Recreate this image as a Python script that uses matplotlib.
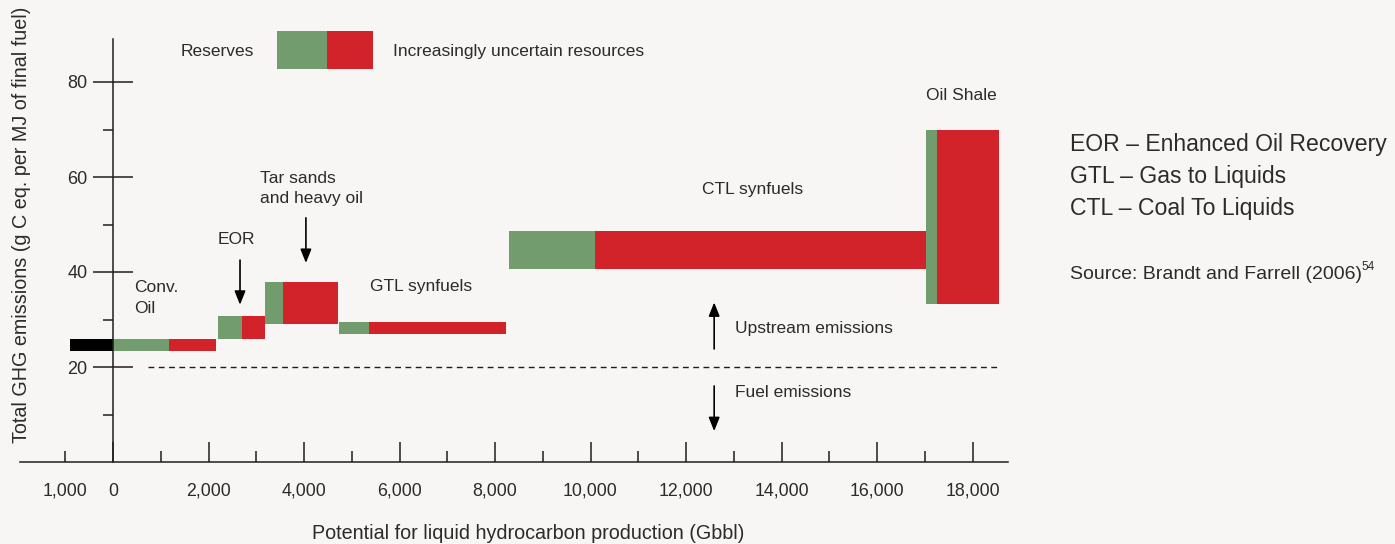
import matplotlib
matplotlib.use("Agg")
import matplotlib.pyplot as plt
from matplotlib.patches import Rectangle
from matplotlib.ticker import FixedLocator, FuncFormatter
import numpy as np

# ---------------- data ----------------
categories = ["Conv.\nOil", "EOR", "Tar sands\nand heavy oil", "GTL synfuels", "CTL synfuels", "Oil Shale"]
start = np.array([0, 2200, 3180, 4730, 8290, 17030])          # Gbbl
reserves_end = np.array([1170, 2700, 3560, 5360, 10090, 17260])
resources_end = np.array([2160, 3180, 4710, 8230, 17030, 18550])
low = np.array([23.4, 25.9, 29.1, 26.9, 40.6, 33.3])          # g C eq / MJ
high = np.array([25.9, 30.7, 37.9, 29.5, 48.6, 69.9])

produced_start = -900
produced_end = 0
produced_low = 23.4
produced_high = 25.9

fuel_emissions = 20

x_tick_values = [-1000, 0, 2000, 4000, 6000, 8000, 10000, 12000, 14000, 16000, 18000]
x_tick_labels = ["1,000", "0", "2,000", "4,000", "6,000", "8,000", "10,000",
                 "12,000", "14,000", "16,000", "18,000"]
y_tick_values = [20, 40, 60, 80]
y_tick_labels = ["20", "40", "60", "80"]

# ---------------- style ----------------
W, H = 1395, 544
BG = "#f7f6f4"
GREEN = "#739c6e"
RED = "#d2232b"
TXT = "#2b2b2b"
LINE = "#1e1e1e"
FONT = "Liberation Sans"
plt.rcParams["font.family"] = [FONT, "DejaVu Sans"]

fig = plt.figure(figsize=(W / 100, H / 100), dpi=100)
fig.patch.set_facecolor(BG)

def fx(px):
    return px / W

def fy(py):
    return 1 - py / H

PXK = 0.04775     # px per Gbbl
PXY = 4.75        # px per unit y
X0 = 113          # pixel of x=0
Y0 = 462          # pixel of y=0
xlim = (-1950, 18750)
ylim = (0, 92)
left_px = X0 + xlim[0] * PXK
width_px = (xlim[1] - xlim[0]) * PXK
height_px = (ylim[1] - ylim[0]) * PXY
ax = fig.add_axes([left_px / W, (H - Y0) / H, width_px / W, height_px / H])
ax.set_facecolor(BG)
ax.set_xlim(*xlim)
ax.set_ylim(*ylim)

for s in ["top", "right"]:
    ax.spines[s].set_visible(False)
ax.spines["bottom"].set_bounds(xlim[0], xlim[1])
ax.spines["left"].set_position(("data", 0))
ax.spines["left"].set_bounds(0, 89)
for s in ["bottom", "left"]:
    ax.spines[s].set_linewidth(1.1)
    ax.spines[s].set_color(LINE)

# bars
ax.bar(start, high - low, width=reserves_end - start, bottom=low, align="edge",
       color=GREEN, linewidth=0)
ax.bar(reserves_end, high - low, width=resources_end - reserves_end, bottom=low,
       align="edge", color=RED, linewidth=0)
ax.bar([produced_start], [produced_high - produced_low], width=[produced_end - produced_start],
       bottom=[produced_low], align="edge", color="black", linewidth=0)

# fuel emissions dashed line
ax.hlines(fuel_emissions, 730, 18570, colors=LINE, linewidth=1.0,
          linestyles=(0, (4.2, 3.2)))

# ticks
ax.xaxis.set_major_locator(FixedLocator(x_tick_values[1:]))
ax.set_xticklabels(x_tick_labels[1:])
ax.xaxis.set_minor_locator(FixedLocator([x_tick_values[0]] + list(range(1000, 18000, 2000))))
ax.xaxis.set_minor_formatter(FuncFormatter(lambda v, p: x_tick_labels[0] if v == x_tick_values[0] else ""))
ax.tick_params(axis="x", which="major", direction="in", length=14.5, width=1.1,
               color=LINE, pad=15, labelsize=12.8, labelcolor=TXT)
ax.tick_params(axis="x", which="minor", direction="in", length=8, width=1.1,
               color=LINE, pad=15, labelsize=12.8, labelcolor=TXT)

ax.yaxis.set_major_locator(FixedLocator(y_tick_values))
ax.set_yticklabels(y_tick_labels)
ax.yaxis.set_minor_locator(FixedLocator([10, 30, 50, 70]))
ax.tick_params(axis="y", which="major", direction="inout", length=29, width=1.1,
               color=LINE, pad=4, labelsize=13, labelcolor=TXT)
ax.tick_params(axis="y", which="minor", direction="out", length=7.5, width=1.1,
               color=LINE)

# arrows
arrow_kw = dict(arrowstyle="-|>,head_length=0.55,head_width=0.22", color="black",
                lw=1.2, mutation_scale=15, shrinkA=0, shrinkB=0)
ax.annotate("", xy=(2660, 33.1), xytext=(2660, 42.5), arrowprops=arrow_kw)
ax.annotate("", xy=(4040, 41.9), xytext=(4040, 51.4), arrowprops=arrow_kw)
ax.annotate("", xy=(12590, 33.6), xytext=(12590, 23.8), arrowprops=arrow_kw)
ax.annotate("", xy=(12590, 6.5), xytext=(12590, 16.0), arrowprops=arrow_kw)

# category labels
fs = 12.5
fig.text(fx(134), fy(292), "Conv.", fontsize=fs, color=TXT, va="baseline")
fig.text(fx(134), fy(313), "Oil", fontsize=fs, color=TXT, va="baseline")
fig.text(fx(218), fy(244), "EOR", fontsize=fs, color=TXT, va="baseline")
fig.text(fx(260), fy(183), "Tar sands", fontsize=fs, color=TXT, va="baseline")
fig.text(fx(260), fy(203), "and heavy oil", fontsize=fs, color=TXT, va="baseline")
fig.text(fx(370), fy(291), "GTL synfuels", fontsize=fs, color=TXT, va="baseline")
fig.text(fx(753), fy(194), "CTL synfuels", fontsize=fs, color=TXT, va="baseline", ha="center")
fig.text(fx(961), fy(100), "Oil Shale", fontsize=fs, color=TXT, va="baseline", ha="center")
fig.text(fx(735), fy(333), "Upstream emissions", fontsize=fs, color=TXT, va="baseline")
fig.text(fx(735), fy(397), "Fuel emissions", fontsize=fs, color=TXT, va="baseline")

# legend
fig.add_artist(Rectangle((fx(277), fy(69)), 50 / W, 38 / H, transform=fig.transFigure,
                         facecolor=GREEN, edgecolor="none"))
fig.add_artist(Rectangle((fx(327), fy(69)), 46 / W, 38 / H, transform=fig.transFigure,
                         facecolor=RED, edgecolor="none"))
fig.text(fx(254), fy(56), "Reserves", fontsize=fs, color=TXT, va="baseline", ha="right")
fig.text(fx(393), fy(56), "Increasingly uncertain resources", fontsize=fs, color=TXT, va="baseline")

# right notes
fig.text(fx(1070), fy(151), "EOR \u2013 Enhanced Oil Recovery", fontsize=16.6, color=TXT, va="baseline")
fig.text(fx(1070), fy(183), "GTL \u2013 Gas to Liquids", fontsize=16.6, color=TXT, va="baseline")
fig.text(fx(1070), fy(215), "CTL \u2013 Coal To Liquids", fontsize=16.6, color=TXT, va="baseline")
fig.text(fx(1070), fy(279), "Source: Brandt and Farrell (2006)", fontsize=14, color=TXT, va="baseline")
fig.text(fx(1361), fy(270), "54", fontsize=8.5, color=TXT, va="baseline")

# axis labels
fig.text(fx(22), fy(225), "Total GHG emissions (g C eq. per MJ of final fuel)", fontsize=14.2,
         color=TXT, rotation=90, ha="center", va="center")
fig.text(fx(528), fy(539), "Potential for liquid hydrocarbon production (Gbbl)", fontsize=14.2,
         color=TXT, ha="center", va="baseline")

fig.savefig("out.png", dpi=100, facecolor=BG)
